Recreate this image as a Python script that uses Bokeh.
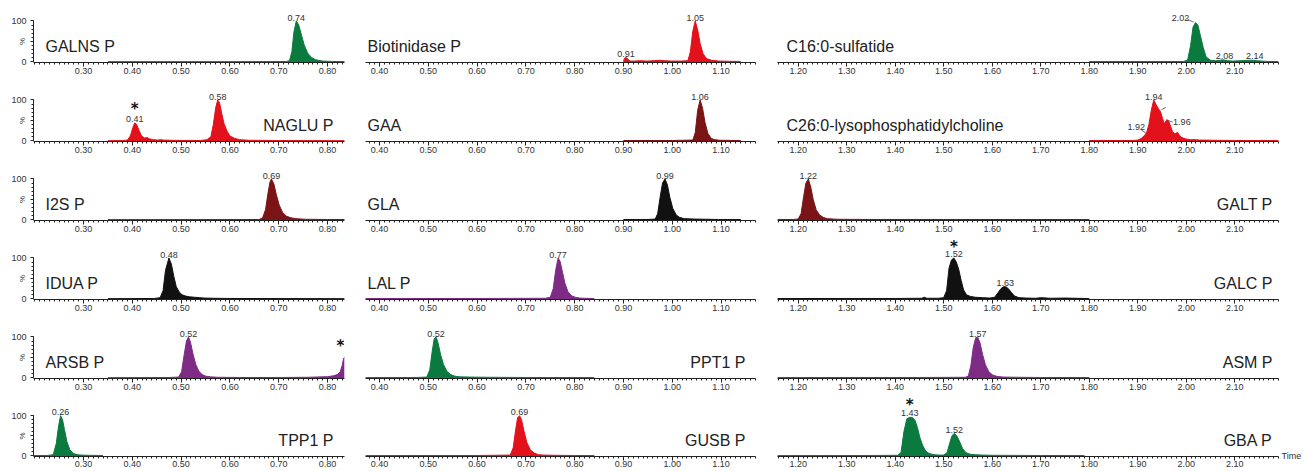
import math
from bokeh.plotting import figure
from bokeh.layouts import gridplot
from bokeh.models import Range1d, FixedTicker, PrintfTickFormatter, LinearAxis
from bokeh.core.properties import value
from bokeh.embed import file_html
from bokeh.resources import INLINE

FONT = "Liberation Sans"
GREEN = "#0b7a3e"
RED = "#e2111b"
DRED = "#7b1416"
BLACK = "#111111"
PURPLE = "#7e2b86"

# ---------------- data (retention time, relative intensity %) ----------------
galns_t = [0.350, 0.600, 0.715, 0.722, 0.727, 0.731, 0.736, 0.741, 0.746, 0.752, 0.759, 0.767, 0.776, 0.790, 0.810, 0.835]
galns_i = [0.6, 0.6, 0.8, 3, 25, 72, 100, 90, 68, 42, 22, 11, 5, 2, 1, 0.8]
galns_peaks = [(0.736, 101, "0.74")]

biot_t = [0.900, 0.902, 0.905, 0.909, 0.913, 0.923, 0.933, 0.948, 0.963, 0.973, 0.983, 0.998, 1.018, 1.032, 1.037, 1.042, 1.047, 1.052, 1.057, 1.063, 1.070, 1.080, 1.095, 1.115, 1.140]
biot_i = [1, 9, 11, 7, 2, 2, 3, 2, 3, 4, 3, 2, 2, 3, 25, 75, 100, 78, 45, 20, 8, 4, 2, 1.5, 1]
biot_peaks = [(0.905, 12, "0.91"), (1.047, 101, "1.05")]

c16_t = [1.800, 1.950, 1.995, 2.003, 2.009, 2.014, 2.019, 2.024, 2.029, 2.035, 2.041, 2.050, 2.060, 2.070, 2.076, 2.080, 2.086, 2.095, 2.115, 2.130, 2.138, 2.145, 2.155, 2.168, 2.190]
c16_i = [0.8, 0.8, 1, 5, 40, 85, 96, 90, 65, 35, 12, 4, 3, 4, 5, 4, 3, 2, 3, 4, 4, 3, 2, 1, 1]
c16_peaks = [(1.988, 100, "2.02"), (2.079, 7, "2.08"), (2.141, 6, "2.14")]
c16_leaders = [(2.003, 104, 2.015, 97)]

naglu_t = [0.350, 0.380, 0.390, 0.396, 0.401, 0.405, 0.409, 0.414, 0.419, 0.425, 0.430, 0.435, 0.442, 0.452, 0.458, 0.464, 0.480, 0.500, 0.540, 0.553, 0.561, 0.566, 0.571, 0.575, 0.579, 0.583, 0.588, 0.594, 0.600, 0.610, 0.620, 0.640, 0.700, 0.835]
naglu_i = [0.5, 0.8, 2, 12, 32, 44, 40, 25, 12, 7, 8, 5, 3, 2, 3, 2, 1.5, 1, 1, 3, 10, 40, 82, 100, 92, 68, 42, 24, 12, 6, 3, 1.5, 0.8, 0.5]
naglu_peaks = [(0.405, 46, "0.41"), (0.575, 101, "0.58")]
naglu_stars = [(0.405, 100)]

gaa_t = [0.900, 1.000, 1.042, 1.047, 1.052, 1.057, 1.062, 1.067, 1.073, 1.080, 1.087, 1.097, 1.140]
gaa_i = [1, 1, 2, 20, 75, 100, 80, 45, 18, 6, 3, 1.5, 1]
gaa_peaks = [(1.057, 101, "1.06")]

c26_t = [1.800, 1.890, 1.900, 1.907, 1.913, 1.918, 1.923, 1.928, 1.933, 1.938, 1.943, 1.947, 1.951, 1.955, 1.960, 1.964, 1.968, 1.972, 1.977, 1.982, 1.986, 1.991, 1.998, 2.008, 2.018, 2.028, 2.038, 2.058, 2.100, 2.190]
c26_i = [0.8, 1, 2, 6, 12, 19, 40, 75, 100, 88, 78, 72, 55, 42, 52, 48, 35, 22, 17, 21, 14, 8, 5, 3, 3, 2, 2, 1.5, 1, 0.8]
c26_peaks = [(1.933, 101, "1.94"), (1.897, 27, "1.92"), (1.991, 38, "1.96")]
c26_leaders = [(1.907, 27, 1.918, 18), (1.962, 50, 1.972, 46), (1.949, 76, 1.958, 82)]

i2s_t = [0.350, 0.600, 0.660, 0.667, 0.673, 0.678, 0.682, 0.685, 0.690, 0.695, 0.701, 0.708, 0.716, 0.725, 0.735, 0.755, 0.800, 0.835]
i2s_i = [0.5, 0.7, 1, 5, 25, 65, 92, 100, 88, 62, 36, 18, 9, 5, 3, 1.5, 1, 0.8]
i2s_peaks = [(0.685, 101, "0.69")]

gla_t = [0.900, 0.950, 0.965, 0.970, 0.975, 0.980, 0.985, 0.990, 0.995, 1.001, 1.008, 1.015, 1.025, 1.045, 1.095, 1.140]
gla_i = [1, 1, 2, 15, 55, 90, 100, 85, 55, 28, 12, 6, 3, 2, 1, 1]
gla_peaks = [(0.985, 101, "0.99")]

galt_t = [1.1574, 1.190, 1.200, 1.206, 1.211, 1.216, 1.221, 1.226, 1.231, 1.237, 1.244, 1.252, 1.260, 1.280, 1.350, 1.500, 1.800]
galt_i = [1, 1, 2, 15, 55, 90, 100, 80, 50, 25, 12, 6, 3, 1.5, 1, 1, 0.8]
galt_peaks = [(1.221, 101, "1.22")]

idua_t = [0.350, 0.445, 0.457, 0.463, 0.468, 0.475, 0.480, 0.485, 0.490, 0.496, 0.502, 0.509, 0.517, 0.527, 0.537, 0.547, 0.567, 0.600, 0.700, 0.835]
idua_i = [0.5, 1, 3, 20, 70, 100, 85, 55, 30, 17, 10, 7, 5, 4, 3, 2, 1.5, 1, 0.8, 0.5]
idua_peaks = [(0.475, 101, "0.48")]

lal_t = [0.371, 0.600, 0.740, 0.750, 0.756, 0.761, 0.766, 0.770, 0.775, 0.780, 0.786, 0.793, 0.801, 0.810, 0.820, 0.840]
lal_i = [0.8, 1, 1.5, 4, 25, 70, 100, 92, 65, 38, 18, 8, 4, 2, 1.5, 1]
lal_peaks = [(0.766, 101, "0.77")]

galc_t = [1.1574, 1.300, 1.400, 1.455, 1.460, 1.465, 1.490, 1.500, 1.506, 1.511, 1.516, 1.521, 1.526, 1.531, 1.536, 1.541, 1.547, 1.555, 1.565, 1.580, 1.595, 1.605, 1.612, 1.618, 1.624, 1.629, 1.634, 1.640, 1.646, 1.655, 1.670, 1.690, 1.700, 1.720, 1.750, 1.800]
galc_i = [0.8, 1, 1, 1.5, 4, 1.5, 1.5, 3, 20, 75, 95, 100, 90, 72, 45, 22, 10, 6, 4, 3, 2, 4, 15, 25, 30, 29, 24, 15, 7, 3, 2, 1.5, 3, 1.5, 2, 0.8]
galc_peaks = [(1.521, 102, "1.52"), (1.627, 31, "1.63")]
galc_stars = [(1.521, 149)]

arsb_t = [0.350, 0.475, 0.495, 0.501, 0.506, 0.511, 0.515, 0.519, 0.524, 0.530, 0.536, 0.543, 0.551, 0.560, 0.575, 0.620, 0.700, 0.760, 0.800, 0.812, 0.820, 0.826, 0.830, 0.833, 0.835]
arsb_i = [0.5, 1, 2, 15, 55, 90, 100, 88, 60, 33, 17, 8, 4, 2.5, 1.5, 1, 1, 1.5, 3, 5, 8, 15, 30, 48, 50]
arsb_peaks = [(0.515, 101, "0.52")]
arsb_stars = [(0.8266, 99)]

ppt1_t = [0.371, 0.475, 0.497, 0.503, 0.508, 0.512, 0.516, 0.520, 0.525, 0.531, 0.538, 0.546, 0.555, 0.565, 0.585, 0.620, 0.700, 0.840]
ppt1_i = [0.8, 1, 2, 20, 65, 95, 100, 85, 58, 33, 16, 8, 4, 2.5, 2, 1.5, 1, 0.8]
ppt1_peaks = [(0.516, 101, "0.52")]

asm_t = [1.1574, 1.450, 1.545, 1.551, 1.556, 1.561, 1.566, 1.570, 1.575, 1.580, 1.586, 1.593, 1.601, 1.610, 1.623, 1.650, 1.700, 1.800]
asm_i = [0.8, 1, 1.5, 5, 30, 75, 98, 100, 85, 58, 32, 15, 7, 3.5, 2, 1.5, 1, 0.8]
asm_peaks = [(1.570, 101, "1.57")]

tpp1_t = [0.1975, 0.225, 0.238, 0.244, 0.249, 0.253, 0.257, 0.261, 0.266, 0.272, 0.279, 0.287, 0.295, 0.310, 0.340]
tpp1_i = [1, 1, 3, 30, 75, 100, 90, 65, 35, 15, 6, 3, 2, 1.5, 1]
tpp1_peaks = [(0.253, 101, "0.26")]

gusb_t = [0.371, 0.600, 0.668, 0.674, 0.679, 0.683, 0.687, 0.691, 0.696, 0.702, 0.709, 0.717, 0.726, 0.736, 0.756, 0.800, 0.840]
gusb_i = [0.8, 1, 2, 20, 65, 95, 100, 90, 62, 33, 15, 7, 3, 2, 1.5, 1, 0.8]
gusb_peaks = [(0.687, 101, "0.69")]

gba_t = [1.1574, 1.350, 1.405, 1.412, 1.418, 1.424, 1.430, 1.436, 1.441, 1.446, 1.451, 1.457, 1.463, 1.470, 1.480, 1.490, 1.500, 1.507, 1.512, 1.517, 1.522, 1.527, 1.533, 1.539, 1.546, 1.555, 1.565, 1.580, 1.600, 1.700, 1.790]
gba_i = [0.8, 1, 1.5, 8, 60, 92, 96, 95, 88, 70, 45, 25, 12, 6, 3, 2, 2, 8, 30, 50, 56, 50, 35, 18, 8, 4, 3, 2, 1.5, 1, 0.8]
gba_peaks = [(1.430, 98, "1.43"), (1.522, 58, "1.52")]
gba_stars = [(1.430, 149)]

x_major = [
    [0.30, 0.40, 0.50, 0.60, 0.70, 0.80],
    [0.40, 0.50, 0.60, 0.70, 0.80, 0.90, 1.00, 1.10],
    [1.20, 1.30, 1.40, 1.50, 1.60, 1.70, 1.80, 1.90, 2.00, 2.10],
]
x_minor_span = [(0.20, 0.83), (0.38, 1.17), (1.16, 2.19)]

# ---------------- panel table ----------------
panels = [
    [("GALNS P", GREEN, galns_t, galns_i, galns_peaks, [], [], "left"),
     ("Biotinidase P", RED, biot_t, biot_i, biot_peaks, [], [], "left"),
     ("C16:0-sulfatide", GREEN, c16_t, c16_i, c16_peaks, [], c16_leaders, "left")],
    [("NAGLU P", RED, naglu_t, naglu_i, naglu_peaks, naglu_stars, [], "right"),
     ("GAA", DRED, gaa_t, gaa_i, gaa_peaks, [], [], "left"),
     ("C26:0-lysophosphatidylcholine", RED, c26_t, c26_i, c26_peaks, [], c26_leaders, "left")],
    [("I2S P", DRED, i2s_t, i2s_i, i2s_peaks, [], [], "left"),
     ("GLA", BLACK, gla_t, gla_i, gla_peaks, [], [], "left"),
     ("GALT P", DRED, galt_t, galt_i, galt_peaks, [], [], "right")],
    [("IDUA P", BLACK, idua_t, idua_i, idua_peaks, [], [], "left"),
     ("LAL P", PURPLE, lal_t, lal_i, lal_peaks, [], [], "left"),
     ("GALC P", BLACK, galc_t, galc_i, galc_peaks, galc_stars, [], "right")],
    [("ARSB P", PURPLE, arsb_t, arsb_i, arsb_peaks, arsb_stars, [], "left"),
     ("PPT1 P", GREEN, ppt1_t, ppt1_i, ppt1_peaks, [], [], "right"),
     ("ASM P", PURPLE, asm_t, asm_i, asm_peaks, [], [], "right")],
    [("TPP1 P", GREEN, tpp1_t, tpp1_i, tpp1_peaks, [], [], "right"),
     ("GUSB P", RED, gusb_t, gusb_i, gusb_peaks, [], [], "right"),
     ("GBA P", GREEN, gba_t, gba_i, gba_peaks, gba_stars, [], "right")],
]

# ---------------- layout / style ----------------
PX = 488.0  # pixels per minute
col_w = [350, 415, 539]
col_bl = [33, 15, 12]
col_br = [6, 10, 23]
col_x0 = [0.1975, 0.3713, 1.1574]
name_in_left = [12, 2, 9]
name_in_right = [11, 10, 6]
row_h = [79, 79, 79, 79, 79, 76]
row_axis = [17, 17, 17, 17, 17, 15]
TXT = "#333333"
NROW = len(panels)
NB = "\u00a0"

figs = []
for r, prow in enumerate(panels):
    frow = []
    for c, (name, color, t, inten, peaks, stars, leaders, side) in enumerate(prow):
        fw = col_w[c] - col_bl[c] - col_br[c]
        x0 = col_x0[c]
        x1 = x0 + fw / PX
        p = figure(width=col_w[c], height=row_h[r],
                   x_range=Range1d(x0, x1), y_range=Range1d(-1.5, 150),
                   output_backend="svg", toolbar_location=None, title=None,
                   y_axis_location="left" if c == 0 else None,
                   min_border_left=col_bl[c], min_border_right=col_br[c],
                   min_border_top=0, min_border_bottom=row_axis[r])
        p.xgrid.visible = False
        p.ygrid.visible = False
        p.outline_line_color = None
        p.background_fill_color = "white"
        p.border_fill_color = "white"

        xa = p.xaxis[0]
        lo, hi = x_minor_span[c]
        n = int(round((hi - lo) * 100))
        xa.ticker = FixedTicker(ticks=x_major[c],
                                minor_ticks=[round(lo + k * 0.01, 2) for k in range(n + 1)])
        xa.formatter = PrintfTickFormatter(format="%.2f")
        xa.major_label_text_font = FONT
        xa.major_label_text_font_size = "9px"
        xa.major_label_text_color = TXT
        xa.major_label_standoff = 1 if r < NROW - 1 else 0
        xa.major_tick_out = 4
        xa.major_tick_in = 0
        xa.minor_tick_out = 2
        xa.minor_tick_in = 0
        xa.axis_line_color = "#222222"
        xa.major_tick_line_color = "#222222"
        xa.minor_tick_line_color = "#222222"

        if c == 0:
            ya = p.yaxis[0]
            ya.ticker = FixedTicker(ticks=[0, 50, 100], minor_ticks=list(range(0, 101, 10)))
            ya.major_label_overrides = {50: ""}
            ya.bounds = (0, 100)
            ya.major_label_text_font = FONT
            ya.major_label_text_font_size = "9px"
            ya.major_label_text_color = TXT
            ya.major_label_standoff = 4
            ya.major_tick_out = 3
            ya.major_tick_in = 0
            ya.minor_tick_out = 2
            ya.minor_tick_in = 0
            ya.axis_line_color = "#222222"
            ya.major_tick_line_color = "#222222"
            ya.minor_tick_line_color = "#222222"
            # "%" placed at the 50 % level (label is centred on the frame)
            ya.axis_label = "%" + NB * 9
            ya.axis_label_standoff = -19
            ya.axis_label_text_font = FONT
            ya.axis_label_text_font_size = "8px"
            ya.axis_label_text_font_style = "normal"
            ya.axis_label_text_color = TXT

        # chromatogram
        p.varea(x=t, y1=[0] * len(t), y2=inten, fill_color=color)
        p.line(t, inten, line_color=color, line_width=1)

        # peak labels
        for (px_, py_, txt) in peaks:
            p.text(x=[px_], y=[py_], text=[txt], text_font=value(FONT),
                   text_font_size="9px", text_align="center",
                   text_baseline="bottom", text_color=TXT)
        for (sx, sy) in stars:
            p.text(x=[sx], y=[sy], text=["*"], text_font=value("DejaVu Sans"),
                   text_font_size="15px", text_font_style="bold", text_align="center",
                   text_baseline="top", text_color="#111111")
        for (ax0, ay0, ax1, ay1) in leaders:
            p.segment(x0=[ax0], y0=[ay0], x1=[ax1], y1=[ay1],
                      line_color="#444444", line_width=0.8)

        # compound name
        if side == "left":
            nx, al = x0 + name_in_left[c] / PX, "left"
        else:
            nx, al = x1 - name_in_right[c] / PX, "right"
        p.text(x=[nx], y=[16], text=[name], text_font=value(FONT),
               text_font_size="16px", text_align=al, text_baseline="bottom",
               text_color="#222222")

        if r == NROW - 1 and c == 2:
            tax = LinearAxis(ticker=FixedTicker(ticks=[0]),
                             major_label_overrides={0: "Time"},
                             axis_line_color=None, major_tick_line_color=None,
                             minor_tick_line_color=None, major_tick_out=0,
                             major_tick_in=0, minor_tick_out=0, minor_tick_in=0,
                             major_label_standoff=3,
                             major_label_text_font=FONT,
                             major_label_text_font_size="9px",
                             major_label_text_color=TXT)
            p.add_layout(tax, "right")
        frow.append(p)
    figs.append(frow)

grid = gridplot(figs, toolbar_location=None)

open("out.html", "w").write(file_html(grid, INLINE))
